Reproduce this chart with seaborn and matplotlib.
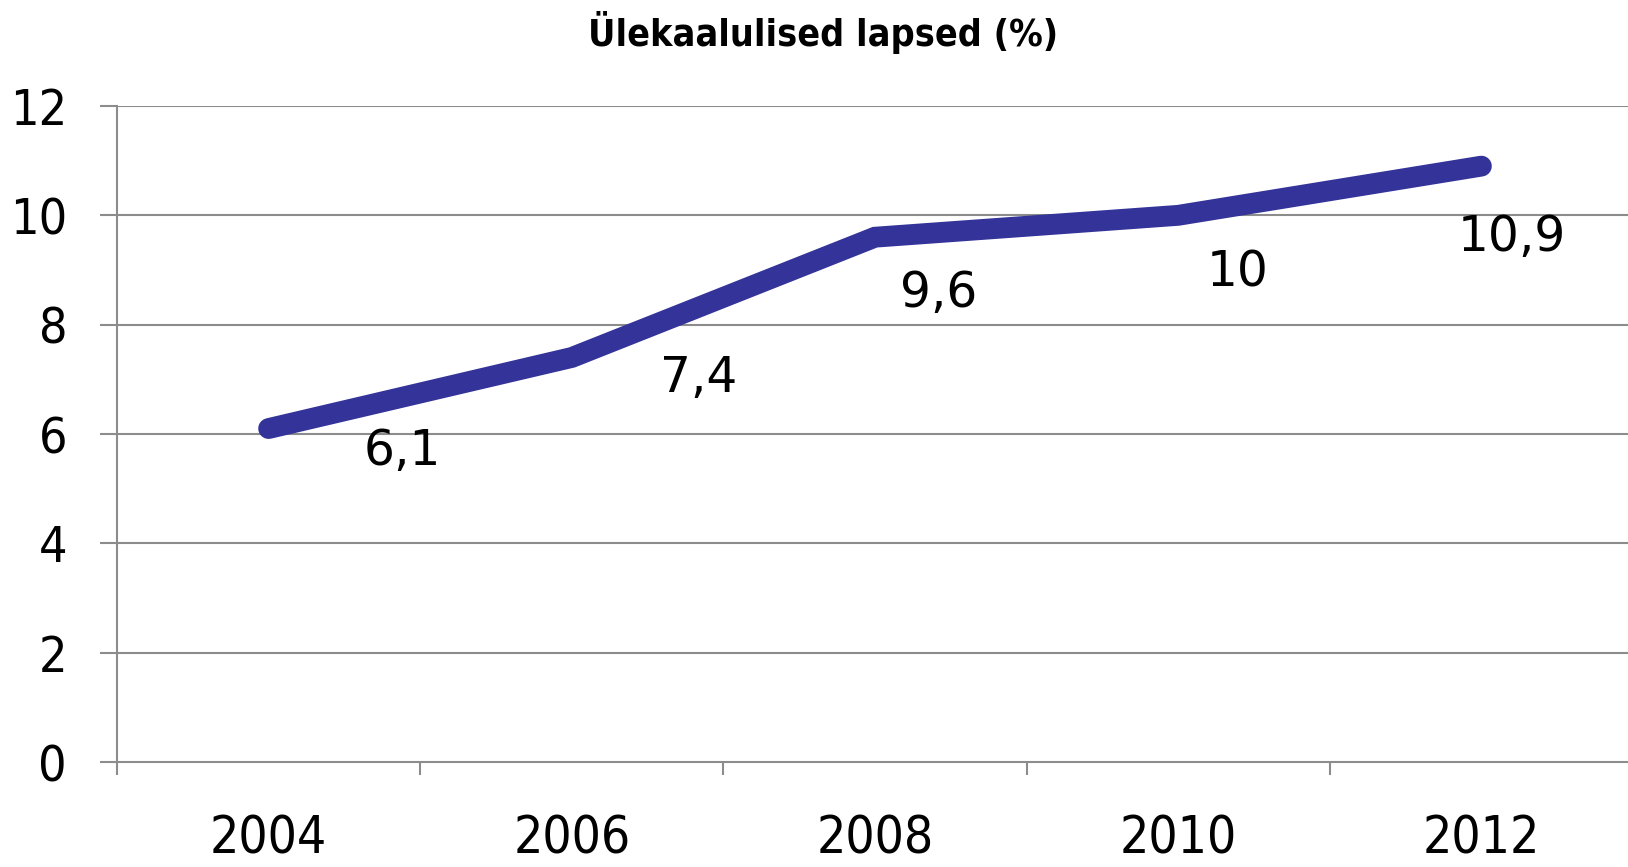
import numpy as np
import pandas as pd
import matplotlib
matplotlib.use("Agg")
import matplotlib.pyplot as plt
import seaborn as sns

# ------------------- data -------------------
years = ["2004", "2006", "2008", "2010", "2012"]
values = [6.1, 7.4, 9.6, 10, 10.9]
value_labels = ["6,1", "7,4", "9,6", "10", "10,9"]
y_ticks = [0, 2, 4, 6, 8, 10, 12]

# label offsets (points) as seen in the source chart
label_offsets = [(96, -16), (91, -15), (46, -40), (43, -41), (22, -51)]

df = pd.DataFrame({"aasta": years, "protsent": values})

sns.set_theme(style="white")
plt.rcParams["font.family"] = ["DejaVu Sans"]
plt.rcParams["text.color"] = "black"
plt.rcParams["xtick.labelcolor"] = "black"
plt.rcParams["ytick.labelcolor"] = "black"

fig = plt.figure(figsize=(16.28, 8.67), dpi=100)
ax = fig.add_axes([117 / 1628, 105 / 867, 1516 / 1628, 656 / 867])

grid_col = "#8c8c8c"
for yv in y_ticks[1:]:
    ax.axhline(yv, color=grid_col, lw=1.5, zorder=0)

sns.lineplot(data=df, x="aasta", y="protsent", sort=False, color="#333399",
             linewidth=15, solid_capstyle="round", solid_joinstyle="miter", ax=ax)

for i, (lab, v) in enumerate(zip(value_labels, values)):
    ax.annotate(lab, (i, v), xytext=label_offsets[i], textcoords="offset points",
                ha="center", va="center", fontsize=35, color="black")

ax.set_xlim(-0.5, len(years) - 0.5)
ax.set_ylim(0, 12)
ax.set_yticks(y_ticks)
ax.set_xlabel("")
ax.set_ylabel("")

for s in ["top", "right"]:
    ax.spines[s].set_visible(False)
for s in ["left", "bottom"]:
    ax.spines[s].set_color(grid_col)
    ax.spines[s].set_linewidth(1.5)

ax.set_xticks(np.arange(len(years)))
ax.set_xticklabels(years, fontstretch="condensed")
ax.set_xticks(np.arange(len(years) + 1) - 0.5, minor=True)
ax.tick_params(axis="x", which="major", length=0, pad=38, labelsize=37)
ax.tick_params(axis="x", which="minor", length=9, width=1.5, color=grid_col, direction="out", bottom=True)
ax.tick_params(axis="y", length=12, width=1.5, color=grid_col, direction="out", left=True,
               pad=24, labelsize=36)
for t in ax.get_yticklabels():
    t.set_fontstretch("condensed")

fig.suptitle("Ülekaalulised lapsed (%)", x=823 / 1628, y=1 - 32 / 867, va="center",
             fontsize=27, fontweight="bold", fontstretch="condensed", color="black")

fig.savefig("out.png", dpi=100)
